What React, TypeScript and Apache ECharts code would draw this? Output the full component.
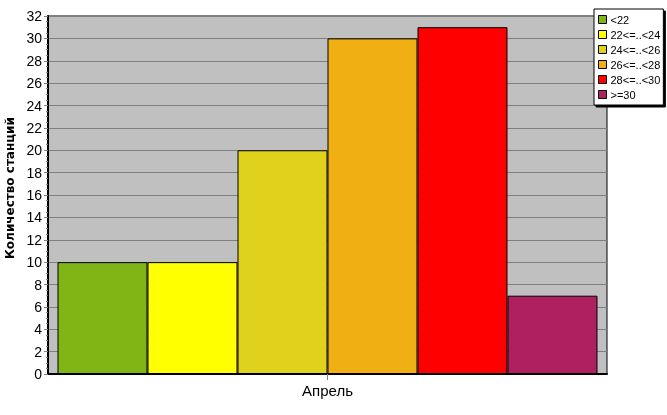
import React, { useEffect, useRef } from "react";
import * as echarts from "echarts";

const categories = ["Апрель"];
const seriesNames = ["<22", "22<=..<24", "24<=..<26", "26<=..<28", "28<=..<30", ">=30"];
const seriesValues = [10, 10, 20, 30, 31, 7];
const seriesColors = ["#7fb514", "#ffff00", "#e0d11c", "#f0b014", "#ff0000", "#ae2060"];
const yAxisTitle = "Количество станций";

export default function App() {
  const ref = useRef<HTMLDivElement>(null);
  useEffect(() => {
    if (!ref.current) return;
    const chart = echarts.init(ref.current, undefined, { renderer: "svg" });
    const font = "'Liberation Sans', Arial, sans-serif";
    chart.setOption({
      animation: false,
      textStyle: { fontFamily: font },
      grid: {
        left: 48,
        top: 16,
        width: 559,
        height: 358,
        show: true,
        backgroundColor: "#c0c0c0",
        borderColor: "#000",
        borderWidth: 1,
        containLabel: false,
        outerBoundsMode: "none",
      },
      legend: {
        orient: "vertical",
        left: 594,
        top: 9,
        padding: [5, 3, 5, 4],
        itemGap: 4,
        itemWidth: 8,
        itemHeight: 8,
        icon: "rect",
        backgroundColor: "#fff",
        borderColor: "#000",
        borderWidth: 1,
        shadowColor: "#000",
        shadowOffsetX: 2,
        shadowOffsetY: 2,
        shadowBlur: 0,
        textStyle: { fontSize: 11, color: "#000", fontFamily: font, padding: [0, 0, 0, -1] },
        itemStyle: { borderColor: "#000", borderWidth: 1 },
        data: seriesNames,
      },
      xAxis: {
        type: "category",
        data: categories,
        axisLine: { lineStyle: { color: "#000", width: 2 } },
        axisTick: { show: true, alignWithLabel: true, length: 6, lineStyle: { color: "#808080" } },
        axisLabel: { fontSize: 15, color: "#000", margin: 9, fontFamily: font },
      },
      yAxis: {
        type: "value",
        min: 0,
        max: 32,
        interval: 2,
        name: yAxisTitle,
        nameLocation: "middle",
        nameGap: 27,
        nameTextStyle: {
          fontSize: 12,
          fontWeight: "bold",
          color: "#000",
          fontFamily: "'DejaVu Sans', sans-serif",
          padding: [0, 0, 0, 14],
        },
        axisLine: { show: true, lineStyle: { color: "#000", width: 2 } },
        axisTick: { show: true, length: 4, lineStyle: { color: "#808080" } },
        minorTick: { show: true, splitNumber: 4, length: 2, lineStyle: { color: "#808080" } },
        axisLabel: { fontSize: 14, color: "#000", margin: 6, fontFamily: font },
        splitLine: { show: true, lineStyle: { color: "#808080", width: 1 } },
      },
      series: seriesNames.map((name, i) => ({
        name,
        type: "bar",
        data: [seriesValues[i]],
        barGap: "0%",
        barCategoryGap: "3.4%",
        itemStyle: { color: seriesColors[i], borderColor: "#000", borderWidth: 1 },
      })),
    });
    return () => chart.dispose();
  }, []);
  return (
    <div
      ref={ref}
      style={{ position: "fixed", left: 0, top: 0, width: 667, height: 415 }}
    />
  );
}
